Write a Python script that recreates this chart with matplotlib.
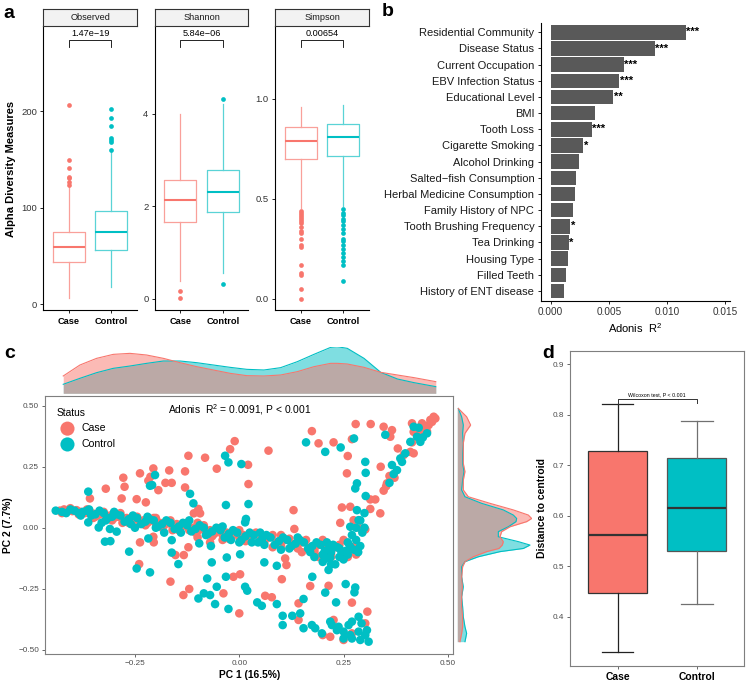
import matplotlib
matplotlib.use("Agg")
import matplotlib.pyplot as plt
import numpy as np

plt.rcParams['font.family'] = ['Liberation Sans', 'DejaVu Sans']
plt.rcParams['mathtext.fontset'] = 'custom'
plt.rcParams['mathtext.rm'] = 'Liberation Sans'
plt.rcParams['mathtext.it'] = 'Liberation Sans:italic'
plt.rcParams['mathtext.bf'] = 'Liberation Sans:bold'

RED = '#F8766D'
TEAL = '#00BFC4'
RED_L = '#F9A09A'
TEAL_L = '#5AD3D6'

# ---------------- panel a: alpha diversity ----------------
groups = ['Case', 'Control']
alpha_names = ['Observed', 'Shannon', 'Simpson']
alpha_p = ['1.47e\u221219', '5.84e\u221206', '0.00654']

obs_case = dict(med=59, q1=43.5, q3=74.6, whislo=6, whishi=121,
                fliers=[124, 127, 131, 132, 141, 149, 206.5])
obs_ctrl = dict(med=75, q1=55.7, q3=96.8, whislo=17.3, whishi=160,
                fliers=[160, 168.5, 170.3, 172.7, 184.8, 192.8, 202])
sha_case = dict(med=2.14, q1=1.67, q3=2.58, whislo=0.39, whishi=4.0,
                fliers=[0.17, 0.02])
sha_ctrl = dict(med=2.32, q1=1.88, q3=2.78, whislo=0.57, whishi=4.22,
                fliers=[0.32, 4.32])
sim_case = dict(med=0.79, q1=0.70, q3=0.86, whislo=0.455, whishi=0.96,
                fliers=[0.44, 0.43, 0.42, 0.41, 0.40, 0.39, 0.38, 0.36, 0.34,
                        0.33, 0.30, 0.27, 0.26, 0.17, 0.13, 0.12, 0.05, 0.0])
sim_ctrl = dict(med=0.81, q1=0.715, q3=0.875, whislo=0.465, whishi=0.97,
                fliers=[0.45, 0.43, 0.42, 0.40, 0.39, 0.37, 0.35, 0.33, 0.30,
                        0.29, 0.27, 0.25, 0.23, 0.21, 0.19, 0.17, 0.09])
alpha_stats = [(obs_case, obs_ctrl), (sha_case, sha_ctrl), (sim_case, sim_ctrl)]
alpha_ylim = [(-6.7, 288.5), (-0.249, 5.90), (-0.0575, 1.365)]
alpha_ticks = [[0, 100, 200], [0, 2, 4], [0.0, 0.5, 1.0]]
alpha_ticklabels = [['0', '100', '200'], ['0', '2', '4'], ['0.0', '0.5', '1.0']]
alpha_bracket = [(266.7, 274), (5.45, 5.60), (1.26, 1.295)]

# ---------------- panel b: adonis ----------------
factors = ['Residential Community', 'Disease Status', 'Current Occupation',
           'EBV Infection Status', 'Educational Level', 'BMI', 'Tooth Loss',
           'Cigarette Smoking', 'Alcohol Drinking', 'Salted\u2212fish Consumption',
           'Herbal Medicine Consumption', 'Family History of NPC',
           'Tooth Brushing Frequency', 'Tea Drinking', 'Housing Type',
           'Filled Teeth', 'History of ENT disease']
adonis_r2 = [0.01161, 0.00896, 0.00627, 0.00590, 0.00538, 0.00379, 0.00353,
             0.00281, 0.00244, 0.00216, 0.00204, 0.00187, 0.00167, 0.00153,
             0.00144, 0.00133, 0.00110]
adonis_sig = ['***', '***', '***', '***', '**', '', '***', '*', '', '', '', '',
              '*', '*', '', '', '']

# ---------------- panel c: PCoA ----------------
case_pts = [
    # upper left
    (-0.32, 0.16), (-0.278, 0.205), (-0.275, 0.168), (-0.238, 0.223), (-0.206, 0.243),
    (-0.213, 0.209), (-0.218, 0.193), (-0.168, 0.235), (-0.177, 0.184), (-0.162, 0.184),
    (-0.13, 0.231), (-0.122, 0.295), (-0.082, 0.287), (-0.054, 0.242), (-0.022, 0.322),
    (-0.011, 0.355), (-0.13, 0.165), (-0.194, 0.154), (-0.246, 0.117), (-0.224, 0.104),
    (-0.282, 0.12), (-0.358, 0.12), (-0.098, 0.077), (-0.094, 0.059), (-0.109, 0.059),
    (0.07, 0.316), (0.021, 0.258), (0.022, 0.179),
    # upper right
    (0.174, 0.396), (0.19, 0.346), (0.226, 0.35), (0.27, 0.363), (0.279, 0.425),
    (0.315, 0.425), (0.346, 0.414), (0.366, 0.4), (0.362, 0.373), (0.38, 0.325),
    (0.26, 0.294), (0.258, 0.223), (0.339, 0.25), (0.36, 0.212), (0.354, 0.182),
    (0.346, 0.152), (0.314, 0.116), (0.326, 0.116), (0.314, 0.077), (0.338, 0.059),
    (0.246, 0.083), (0.266, 0.086), (0.242, 0.02), (0.274, 0.031), (0.29, -0.003),
    (0.302, -0.007), (0.414, 0.428), (0.418, 0.305), (0.434, 0.387), (0.466, 0.455),
    (0.47, 0.448), (0.462, 0.434), (0.454, 0.421), (0.446, 0.407), (0.438, 0.428),
    (0.43, 0.4), (0.418, 0.393), (0.458, 0.442), (0.45, 0.395), (0.414, 0.35),
    (0.41, 0.311), (0.394, 0.298), (0.372, 0.205), (0.352, 0.17),
    # lower
    (-0.24, -0.149), (-0.238, -0.06), (-0.205, -0.06), (-0.206, -0.037), (-0.165, -0.221),
    (-0.134, -0.276), (-0.12, -0.251), (-0.153, -0.112), (-0.133, -0.112), (-0.122, -0.08),
    (-0.038, -0.269), (-0.014, -0.201), (0.002, -0.191), (0.0, -0.351), (0.062, -0.279),
    (0.078, -0.285), (0.102, -0.211), (0.142, -0.31), (0.17, -0.239), (0.214, -0.238),
    (0.27, -0.307), (0.307, -0.344), (0.302, -0.392), (0.226, -0.378), (0.218, -0.447),
    (0.27, -0.433), (0.142, -0.378), (0.113, -0.153), (0.13, 0.072), (0.132, -0.005),
    (0.1, -0.064), (0.11, -0.126), (0.2, -0.44), (0.25, -0.46),
    # main band
    (-0.43, 0.07), (-0.42, 0.075), (-0.41, 0.07), (-0.40, 0.068), (-0.39, 0.072),
    (-0.38, 0.065), (-0.37, 0.06), (-0.36, 0.065), (-0.35, 0.058), (-0.34, 0.05),
    (-0.33, 0.055), (-0.32, 0.045), (-0.31, 0.05), (-0.30, 0.04), (-0.29, 0.045),
    (-0.28, 0.035), (-0.27, 0.04), (-0.26, 0.03), (-0.25, 0.035), (-0.24, 0.025),
    (-0.23, 0.03), (-0.22, 0.02), (-0.21, 0.03), (-0.20, 0.015), (-0.19, 0.02),
    (-0.18, 0.01), (-0.17, 0.02), (-0.16, 0.005), (-0.15, 0.015), (-0.14, 0.0),
    (-0.13, 0.01), (-0.12, -0.01), (-0.11, 0.0), (-0.10, -0.015), (-0.09, -0.005),
    (-0.08, -0.02), (-0.07, -0.01), (-0.06, -0.025), (-0.05, -0.015), (-0.04, -0.03),
    (-0.03, -0.02), (-0.02, -0.035), (-0.01, -0.025), (0.0, -0.04), (0.01, -0.03),
    (0.02, -0.045), (0.03, -0.035), (0.05, -0.05), (0.07, -0.04), (0.09, -0.06),
    (0.11, -0.05), (0.13, -0.07), (0.15, -0.06), (0.17, -0.08), (0.19, -0.07),
    (0.21, -0.09), (0.23, -0.08), (0.25, -0.1), (0.27, -0.085), (0.28, -0.11),
    (-0.35, 0.04), (-0.3, 0.06), (-0.2, 0.04), (-0.1, 0.02), (0.0, -0.01),
    (0.1, -0.03), (0.2, -0.05), (-0.28, 0.02), (-0.16, -0.01), (-0.04, -0.05),
    (0.08, -0.08), (0.18, -0.1), (0.26, -0.12),
    (-0.425, 0.06), (-0.405, 0.08), (-0.385, 0.055), (-0.365, 0.075), (-0.345, 0.045),
    (-0.325, 0.065), (-0.305, 0.03), (-0.285, 0.06), (-0.265, 0.02), (-0.245, 0.045),
    (-0.225, 0.01), (-0.205, 0.04), (-0.185, 0.0), (-0.165, 0.03), (-0.145, -0.01),
    (-0.125, 0.02), (-0.105, -0.02), (-0.085, 0.01), (-0.065, -0.035), (-0.045, 0.0),
    (-0.025, -0.045), (-0.005, -0.015), (0.015, -0.055), (0.04, -0.02), (0.06, -0.06),
    (0.08, -0.03), (0.1, -0.075), (0.12, -0.045), (0.14, -0.085), (0.16, -0.05),
    (0.18, -0.09), (0.2, -0.065), (0.22, -0.11), (0.24, -0.07), (0.26, -0.1),
    (0.28, -0.07), (0.25, -0.05), (0.22, -0.12), (0.19, -0.12), (0.15, -0.1),
    (-0.07, -0.06), (-0.1, -0.04),
]
ctrl_pts = [
    # upper left
    (-0.362, 0.148), (-0.214, 0.172), (-0.202, 0.216), (-0.209, 0.175), (-0.118, 0.139),
    (-0.11, 0.1), (-0.034, 0.295), (-0.026, 0.268), (0.005, 0.261), (0.022, 0.097),
    (-0.032, 0.093), (0.016, 0.036), (0.014, 0.022),
    # upper right
    (0.16, 0.35), (0.206, 0.311), (0.243, 0.329), (0.275, 0.366), (0.302, 0.27),
    (0.303, 0.225), (0.282, 0.182), (0.278, 0.161), (0.303, 0.13), (0.282, 0.072),
    (0.286, 0.031), (0.266, 0.004), (0.35, 0.381), (0.36, 0.184), (0.366, 0.257),
    (0.378, 0.236), (0.386, 0.284), (0.398, 0.305), (0.41, 0.352), (0.426, 0.373),
    (0.434, 0.352), (0.45, 0.387), (0.418, 0.414), (0.39, 0.27), (0.37, 0.22),
    (0.44, 0.37), (0.43, 0.41),
    # lower
    (-0.362, 0.022), (-0.337, 0.001), (-0.31, -0.005), (-0.294, -0.016), (-0.322, -0.057),
    (-0.309, -0.055), (-0.264, -0.098), (-0.246, -0.167), (-0.214, -0.183), (-0.218, -0.044),
    (-0.162, -0.051), (-0.162, -0.102), (-0.146, -0.149), (-0.096, -0.064), (-0.068, -0.075),
    (-0.03, -0.122), (0.002, -0.109), (-0.066, -0.142), (-0.077, -0.208), (-0.054, -0.242),
    (-0.032, -0.201), (-0.098, -0.29), (-0.085, -0.269), (-0.07, -0.276), (-0.058, -0.313),
    (-0.026, -0.333), (0.014, -0.242), (0.019, -0.258), (0.043, -0.306), (0.054, -0.32),
    (0.09, -0.313), (0.06, -0.142), (0.09, -0.156), (0.104, -0.361), (0.104, -0.399),
    (0.127, -0.361), (0.146, -0.351), (0.154, -0.292), (0.175, -0.201), (0.206, -0.266),
    (0.232, -0.306), (0.255, -0.231), (0.278, -0.245), (0.276, -0.265), (0.214, -0.173),
    (0.22, -0.15), (0.218, -0.122), (0.154, -0.412), (0.174, -0.399), (0.182, -0.412),
    (0.198, -0.433), (0.218, -0.385), (0.222, -0.399), (0.238, -0.406), (0.25, -0.426),
    (0.266, -0.44), (0.286, -0.365), (0.27, -0.385), (0.293, -0.392), (0.27, -0.454),
    (0.29, -0.46), (0.302, -0.44), (0.31, -0.467), (0.286, -0.426), (0.306, -0.42),
    (0.25, -0.454), (0.234, -0.42), (0.262, -0.399),
    # main band
    (-0.44, 0.07), (-0.425, 0.065), (-0.405, 0.075), (-0.385, 0.06), (-0.365, 0.07),
    (-0.345, 0.055), (-0.325, 0.06), (-0.305, 0.045), (-0.285, 0.05), (-0.265, 0.035),
    (-0.245, 0.04), (-0.225, 0.025), (-0.205, 0.03), (-0.185, 0.015), (-0.165, 0.02),
    (-0.145, 0.005), (-0.125, 0.01), (-0.105, -0.005), (-0.085, 0.0), (-0.065, -0.015),
    (-0.045, -0.01), (-0.025, -0.025), (-0.005, -0.02), (0.015, -0.035), (0.035, -0.03),
    (0.055, -0.045), (0.075, -0.04), (0.095, -0.055), (0.115, -0.05), (0.135, -0.065),
    (0.155, -0.06), (0.175, -0.075), (0.195, -0.07), (0.215, -0.085), (0.235, -0.08),
    (0.255, -0.095), (0.275, -0.09), (0.29, -0.075), (0.22, -0.1), (0.24, -0.12),
    (0.23, -0.15), (0.25, -0.13), (0.2, -0.11), (0.17, -0.1), (0.12, -0.085),
    (0.06, -0.07), (0.03, -0.06), (-0.02, -0.05), (-0.08, -0.03), (-0.14, -0.02),
    (-0.2, 0.0), (-0.26, 0.015), (-0.32, 0.03), (-0.38, 0.05), (-0.36, 0.075),
    (-0.3, 0.065), (-0.22, 0.045), (-0.12, 0.03), (-0.04, 0.005), (0.05, -0.02),
    (0.14, -0.04), (0.21, -0.06), (0.26, -0.06), (0.27, -0.03), (0.28, 0.0),
    (0.29, 0.03), (0.3, 0.06),
    (-0.415, 0.06), (-0.395, 0.07), (-0.375, 0.065), (-0.355, 0.05), (-0.335, 0.07),
    (-0.315, 0.04), (-0.295, 0.055), (-0.275, 0.025), (-0.255, 0.05), (-0.235, 0.015),
    (-0.215, 0.035), (-0.195, 0.005), (-0.175, 0.03), (-0.155, -0.005), (-0.135, 0.02),
    (-0.115, -0.015), (-0.095, 0.01), (-0.075, -0.025), (-0.055, 0.0), (-0.035, -0.04),
    (-0.015, -0.01), (0.005, -0.05), (0.025, -0.02), (0.045, -0.06), (0.065, -0.03),
    (0.085, -0.07), (0.105, -0.04), (0.125, -0.075), (0.145, -0.05), (0.165, -0.085),
    (0.185, -0.06), (0.205, -0.095), (0.225, -0.07), (0.245, -0.1), (0.265, -0.075),
    (0.285, -0.1), (0.21, -0.125), (0.2, -0.14), (0.18, -0.12), (0.24, -0.085),
    (0.26, -0.11), (0.28, -0.05), (0.295, -0.02), (0.3, 0.0), (-0.33, 0.02),
    (-0.25, 0.0), (-0.18, -0.02), (0.0, -0.06), (0.1, -0.09),
]

# marginal densities (relative heights)
top_x = [-0.422, -0.382, -0.342, -0.302, -0.262, -0.222, -0.182, -0.142, -0.102,
         -0.062, -0.022, 0.018, 0.059, 0.099, 0.139, 0.179, 0.219, 0.235, 0.259,
         0.299, 0.339, 0.379, 0.419, 0.471]
top_case = [52, 85, 105, 117, 120, 115, 105, 92, 80, 70, 60, 53, 52, 55, 65, 80,
            90, 90, 88, 78, 63, 55, 47, 35]
top_ctrl = [27, 45, 62, 75, 82, 90, 97, 97, 92, 85, 78, 72, 70, 77, 95, 117, 138,
            140, 135, 105, 63, 43, 32, 20]
right_y = [0.489, 0.455, 0.421, 0.387, 0.346, 0.305, 0.264, 0.230, 0.195, 0.155,
           0.127, 0.100, 0.073, 0.052, 0.038, 0.025, 0.004, -0.016, -0.037, -0.057,
           -0.071, -0.085, -0.098, -0.119, -0.139, -0.160, -0.201, -0.242, -0.283,
           -0.324, -0.365, -0.406, -0.433, -0.467]
right_case = [3, 28, 40, 23, 18, 18, 18, 23, 18, 18, 33, 98, 168, 213, 223, 208,
              158, 133, 128, 138, 135, 125, 88, 48, 23, 16, 13, 15, 13, 13, 16, 16,
              13, 8]
right_ctrl = [3, 13, 18, 16, 18, 16, 16, 20, 16, 13, 23, 73, 138, 168, 178, 176,
              153, 123, 123, 183, 218, 198, 128, 63, 23, 13, 13, 18, 13, 16, 18, 23,
              28, 23]

# ---------------- panel d: distance to centroid ----------------
dist_case = dict(med=0.562, q1=0.447, q3=0.728, whislo=0.331, whishi=0.82, fliers=[])
dist_ctrl = dict(med=0.615, q1=0.531, q3=0.715, whislo=0.426, whishi=0.787, fliers=[])

# ================= drawing =================
W, H = 750, 686
fig = plt.figure(figsize=(7.5, 6.86), dpi=100)


def ax_px(x0, y0, x1, y1):
    return fig.add_axes([x0 / W, 1 - y1 / H, (x1 - x0) / W, (y1 - y0) / H])


def txt_px(x, y, s, **kw):
    fig.text(x / W, 1 - y / H, s, **kw)


# panel a
facet_x = [(43.3, 137), (154.7, 248.3), (275, 369)]
for i, (x0, x1) in enumerate(facet_x):
    ax = ax_px(x0, 26, x1, 310.5)
    sc, sk = alpha_stats[i]
    for pos, st, c_l, c in [(1, sc, RED_L, RED), (2, sk, TEAL_L, TEAL)]:
        ax.bxp([st], positions=[pos], widths=0.75, showcaps=False, manage_ticks=False,
               boxprops=dict(color=c_l, lw=0.9),
               whiskerprops=dict(color=c_l, lw=0.9),
               medianprops=dict(color=c, lw=1.5),
               flierprops=dict(marker='o', markerfacecolor=c, markeredgecolor='none',
                               markersize=3.4))
    lo, hi = alpha_bracket[i]
    ax.plot([1, 1, 2, 2], [lo, hi, hi, lo], color='black', lw=0.6)
    ax.annotate(alpha_p[i], xy=(1.5, hi), xytext=(0, 1.2), textcoords='offset points',
                ha='center', va='bottom', fontsize=6.6)
    ax.set_xlim(0.4, 2.6)
    ax.set_ylim(*alpha_ylim[i])
    ax.set_yticks(alpha_ticks[i])
    ax.set_yticklabels(alpha_ticklabels[i], fontsize=6.8, color='#333333')
    ax.set_xticks([1, 2])
    ax.set_xticklabels(groups, fontsize=6.7, fontweight='bold', color='black')
    for s in ['top', 'right']:
        ax.spines[s].set_visible(False)
    for s in ['left', 'bottom']:
        ax.spines[s].set_linewidth(0.8)
    ax.tick_params(length=2.5, width=0.6, pad=2)
    st_ax = ax_px(x0, 9.3, x1, 26)
    st_ax.set_facecolor('#F2F2F2')
    st_ax.set_xticks([])
    st_ax.set_yticks([])
    for s in st_ax.spines.values():
        s.set_color('#333333')
        s.set_linewidth(0.8)
    st_ax.text(0.5, 0.5, alpha_names[i], ha='center', va='center', fontsize=6.6,
               color='#1A1A1A', transform=st_ax.transAxes)

txt_px(11, 169, 'Alpha Diversity Measures', rotation=90, ha='center', va='center',
       fontsize=8, fontweight='bold')
txt_px(3, 14, 'a', fontsize=14, fontweight='bold', ha='left', va='center')

# panel b
axb = ax_px(540.5, 22.6, 730, 300.7)
ypos = np.arange(len(factors))[::-1]
axb.barh(ypos, adonis_r2, height=0.9, color='#595959')
for yv, v, s in zip(ypos, adonis_r2, adonis_sig):
    if s:
        axb.text(v + 0.00003, yv, s, ha='left', va='center', fontsize=8,
                 fontweight='bold')
axb.set_ylim(-0.6, len(factors) - 0.4)
axb.set_xlim(-0.00088, 0.01539)
axb.set_yticks(ypos)
axb.set_yticklabels(factors, fontsize=8, color='#1A1A1A')
axb.set_xticks([0, 0.005, 0.010, 0.015])
axb.set_xticklabels(['0.000', '0.005', '0.010', '0.015'], fontsize=7.2, color='#333333')
axb.set_xlabel('Adonis  R$^2$', fontsize=8, labelpad=3)
for s in ['top', 'right']:
    axb.spines[s].set_visible(False)
for s in ['left', 'bottom']:
    axb.spines[s].set_linewidth(0.8)
axb.tick_params(length=2.5, width=0.6, pad=2)
txt_px(382, 12, 'b', fontsize=14, fontweight='bold', ha='left', va='center')

# panel c
case_arr = np.array(case_pts)
ctrl_arr = np.array(ctrl_pts)
xlim_c = (-0.465, 0.513)
ylim_c = (-0.5176, 0.54)
axc = ax_px(45.3, 396, 453.3, 654)
axc.scatter(case_arr[:, 0], case_arr[:, 1], s=38, c=RED, edgecolors='none', label='Case')
axc.scatter(ctrl_arr[:, 0], ctrl_arr[:, 1], s=38, c=TEAL, edgecolors='none', label='Control')
axc.set_xlim(*xlim_c)
axc.set_ylim(*ylim_c)
axc.set_xticks([-0.25, 0.0, 0.25, 0.50])
axc.set_xticklabels(['\u22120.25', '0.00', '0.25', '0.50'])
axc.set_yticks([-0.5, -0.25, 0.0, 0.25, 0.5])
axc.set_yticklabels(['\u22120.50', '\u22120.25', '0.00', '0.25', '0.50'])
axc.tick_params(length=2.5, width=0.6, pad=2, labelsize=5.9, colors='#4D4D4D')
for s in axc.spines.values():
    s.set_color('#7F7F7F')
    s.set_linewidth(0.8)
axc.set_xlabel('PC 1 (16.5%)', fontsize=7.4, fontweight='bold', labelpad=2)
axc.set_ylabel('PC 2 (7.7%)', fontsize=7.4, fontweight='bold', labelpad=4)
leg = axc.legend(title='Status', loc='upper left', bbox_to_anchor=(0.0, 1.0),
                 frameon=False, fontsize=7.6, title_fontsize=7.4, markerscale=1.65,
                 handletextpad=0.3, labelspacing=0.55, handlelength=2.0,
                 borderaxespad=0.7, alignment='left')
axc.text(0.475, 0.948, 'Adonis  R$^2$ = 0.0091, P < 0.001', ha='center', va='center',
         fontsize=7.4, transform=axc.transAxes)
txt_px(4, 354, 'c', fontsize=14, fontweight='bold', ha='left', va='center')

axt = ax_px(45.3, 346.7, 453.3, 393.3)
axt.fill_between(top_x, top_ctrl, color=TEAL, alpha=0.5, lw=0)
axt.plot(top_x, top_ctrl, color=TEAL, lw=0.8)
axt.fill_between(top_x, top_case, color=RED, alpha=0.5, lw=0)
axt.plot(top_x, top_case, color=RED, lw=0.8)
axt.set_xlim(*xlim_c)
axt.set_ylim(0, 140)
axt.axis('off')

axr = ax_px(457.3, 396, 532, 654)
axr.fill_betweenx(right_y, right_ctrl, color=TEAL, alpha=0.5, lw=0)
axr.plot(right_ctrl, right_y, color=TEAL, lw=0.8)
axr.fill_betweenx(right_y, right_case, color=RED, alpha=0.5, lw=0)
axr.plot(right_case, right_y, color=RED, lw=0.8)
axr.set_ylim(*ylim_c)
axr.set_xlim(0, 224)
axr.axis('off')

# panel d
axd = ax_px(570, 350.7, 744.3, 665.7)
for pos, st, fc, ec, wc in [(1, dist_case, RED, '#333333', '#222222'),
                            (2, dist_ctrl, TEAL, '#555555', '#707070')]:
    axd.bxp([st], positions=[pos], widths=0.75, capwidths=0.4, patch_artist=True,
            manage_ticks=False, showfliers=False,
            boxprops=dict(facecolor=fc, edgecolor=ec, lw=0.9),
            whiskerprops=dict(color=wc, lw=0.9),
            capprops=dict(color=wc, lw=0.9),
            medianprops=dict(color='#333333', lw=1.6))
axd.plot([1, 1, 2, 2], [0.82, 0.83, 0.83, 0.822], color='#333333', lw=0.7)
axd.text(1.5, 0.834, 'Wilcoxon test, P < 0.001', ha='center', va='bottom', fontsize=3.8)
axd.set_xlim(0.4, 2.6)
axd.set_ylim(0.3036, 0.9263)
axd.set_yticks([0.4, 0.5, 0.6, 0.7, 0.8, 0.9])
axd.set_yticklabels(['0.4', '0.5', '0.6', '0.7', '0.8', '0.9'])
axd.set_xticks([1, 2])
axd.set_xticklabels(groups, fontsize=7.4, fontweight='bold', color='black')
axd.tick_params(axis='y', labelsize=5.9, colors='#4D4D4D')
axd.tick_params(length=2.5, width=0.6, pad=2)
axd.tick_params(axis='x', colors='#4D4D4D', labelcolor='black')
for s in axd.spines.values():
    s.set_color('#7F7F7F')
    s.set_linewidth(0.8)
axd.set_ylabel('Distance to centroid', fontsize=7.5, fontweight='bold', labelpad=4)
txt_px(542, 353, 'd', fontsize=14, fontweight='bold', ha='left', va='center')

fig.savefig('out.png', dpi=100)
